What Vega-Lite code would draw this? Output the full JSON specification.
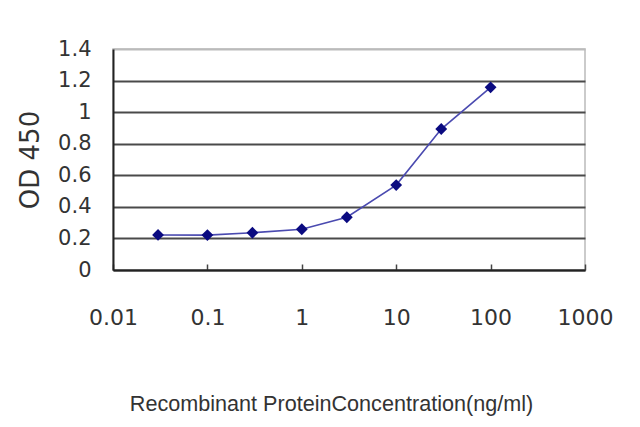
{
  "$schema": "https://vega.github.io/schema/vega-lite/v6.json",
  "autosize": {"type": "none"},
  "width": 472,
  "height": 221,
  "padding": {"left": 113, "top": 49, "right": 55, "bottom": 157},
  "background": "white",
  "config": {
    "view": {"stroke": "#bbbbbb", "strokeWidth": 1.5},
    "font": "DejaVu Sans"
  },
  "data": {
    "values": [
      {"conc": 0.03, "od": 0.222},
      {"conc": 0.1, "od": 0.221},
      {"conc": 0.3, "od": 0.236},
      {"conc": 1, "od": 0.258},
      {"conc": 3, "od": 0.334},
      {"conc": 10, "od": 0.538},
      {"conc": 30, "od": 0.893},
      {"conc": 100, "od": 1.157}
    ]
  },
  "encoding": {
    "x": {
      "field": "conc",
      "type": "quantitative",
      "scale": {"type": "log", "domain": [0.01, 1000], "nice": false},
      "axis": {
        "title": "Recombinant ProteinConcentration(ng/ml)",
        "values": [0.01, 0.1, 1, 10, 100, 1000],
        "format": "~g",
        "grid": false,
        "domainColor": "#222222",
        "domainWidth": 2,
        "tickColor": "#444444",
        "tickSize": -6,
        "tickWidth": 1.5,
        "labelFlush": false,
        "labelPadding": 43,
        "labelFont": "DejaVu Sans",
        "labelFontSize": 22,
        "labelColor": "#333333",
        "titleFont": "Liberation Sans",
        "titleFontSize": 21.6,
        "titleFontWeight": "normal",
        "titleColor": "#333333",
        "titlePadding": 65,
        "titleX": 218,
        "titleAlign": "center"
      }
    },
    "y": {
      "field": "od",
      "type": "quantitative",
      "scale": {"domain": [0, 1.4], "nice": false},
      "axis": {
        "title": "OD 450",
        "values": [0, 0.2, 0.4, 0.6, 0.8, 1, 1.2, 1.4],
        "format": ".1~f",
        "grid": true,
        "gridColor": {"condition": {"test": "datum.value > 1.35", "value": "#bbbbbb"}, "value": "#4a4a4a"},
        "gridWidth": 2.2,
        "domainColor": "#222222",
        "domainWidth": 2,
        "ticks": false,
        "labelPadding": 22,
        "labelFont": "DejaVu Sans",
        "labelFontSize": 21,
        "labelColor": "#333333",
        "titleFont": "DejaVu Sans",
        "titleFontSize": 26,
        "titleFontWeight": "normal",
        "titleColor": "#333333",
        "titlePadding": 14
      }
    }
  },
  "layer": [
    {"mark": {"type": "line", "color": "#4a4ab0", "strokeWidth": 1.6}},
    {"mark": {"type": "point", "shape": "diamond", "filled": true, "color": "#0a0a80", "size": 140, "opacity": 1}}
  ]
}
